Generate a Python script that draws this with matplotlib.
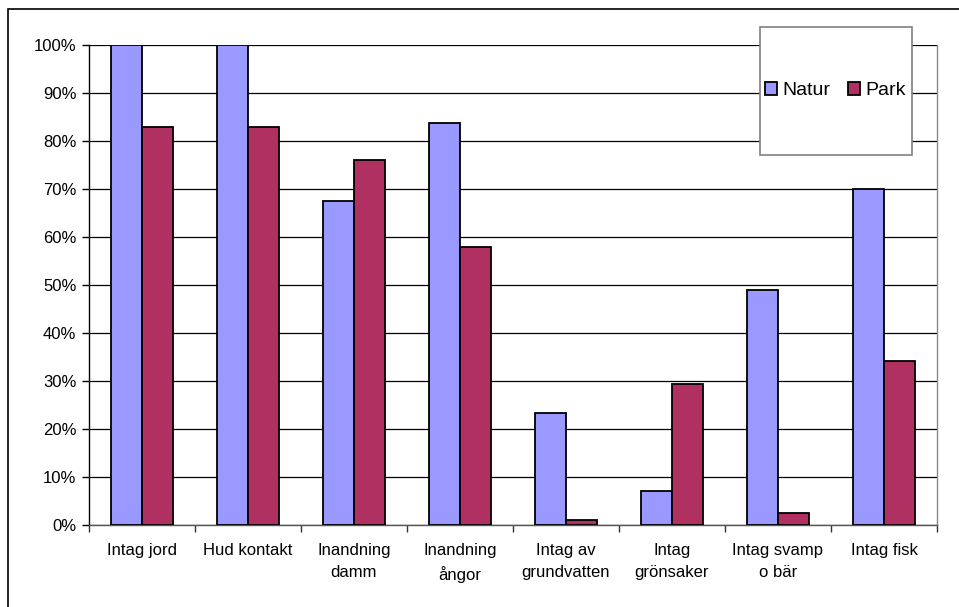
import numpy as np
import matplotlib.pyplot as plt
from matplotlib.patches import Rectangle
from matplotlib.ticker import FuncFormatter, MultipleLocator

categories = ["Intag jord", "Hud kontakt", "Inandning\ndamm", "Inandning\nångor",
              "Intag av\ngrundvatten", "Intag\ngrönsaker", "Intag svamp\no bär", "Intag fisk"]
natur = [100, 100, 67.5, 83.7, 23.3, 7.1, 49, 70]
park = [83, 83, 76, 58, 1.0, 29.4, 2.4, 34.2]

plt.rcParams['font.family'] = ['Liberation Sans', 'DejaVu Sans']

fig = plt.figure(figsize=(9.59, 6.07), dpi=100)
ax = fig.add_axes([0.0928, 0.1351, 0.8842, 0.7908])

x = np.arange(len(categories))
w = 0.29
ax.bar(x - w / 2, natur, w, color="#9999FF", edgecolor="black", linewidth=1.3, label="Natur", zorder=3)
ax.bar(x + w / 2, park, w, color="#B03062", edgecolor="black", linewidth=1.3, label="Park", zorder=3)

ax.set_xlim(-0.5, len(categories) - 0.5)
ax.set_ylim(0, 100)
ax.yaxis.set_major_locator(MultipleLocator(10))
ax.yaxis.set_major_formatter(FuncFormatter(lambda v, p: f"{v:.0f}%"))
ax.grid(axis="y", color="black", linewidth=0.9, zorder=0)

ax.set_xticks(x)
ax.set_xticklabels(categories, fontsize=12, linespacing=1.6)
ax.set_xticks(np.arange(len(categories) + 1) - 0.5, minor=True)
ax.tick_params(axis="x", which="major", length=0, pad=13)
ax.tick_params(axis="x", which="minor", length=5, width=1, color="#333333")
ax.tick_params(axis="y", length=5, width=1, labelsize=12, pad=4)

ax.spines["top"].set_visible(False)
ax.spines["right"].set_color("#888888")
ax.spines["bottom"].set_color("#555555")
ax.spines["left"].set_color("black")
for s in ax.spines.values():
    s.set_linewidth(1)

# legend box
lx0, lx1 = 0.791, 0.9705
ly0, ly1 = 0.771, 1.0375
ax.add_patch(Rectangle((lx0, ly0), lx1 - lx0, ly1 - ly0, transform=ax.transAxes,
                       facecolor="white", edgecolor="#808080", linewidth=1.2,
                       clip_on=False, zorder=5))
leg = ax.legend(loc="center", bbox_to_anchor=(lx0, ly0, lx1 - lx0, ly1 - ly0),
                frameon=False, ncol=2, fontsize=14, handlelength=0.6, handleheight=0.6,
                handletextpad=0.3, columnspacing=0.9, borderaxespad=0)
leg.set_zorder(6)

# outer chart border
fig.patches.append(Rectangle((8 / 959, -0.1), 1.1, 1 - 9 / 607 + 0.1, transform=fig.transFigure,
                             facecolor="none", edgecolor="black", linewidth=1.2, zorder=0))

fig.savefig("out.png", dpi=100)
